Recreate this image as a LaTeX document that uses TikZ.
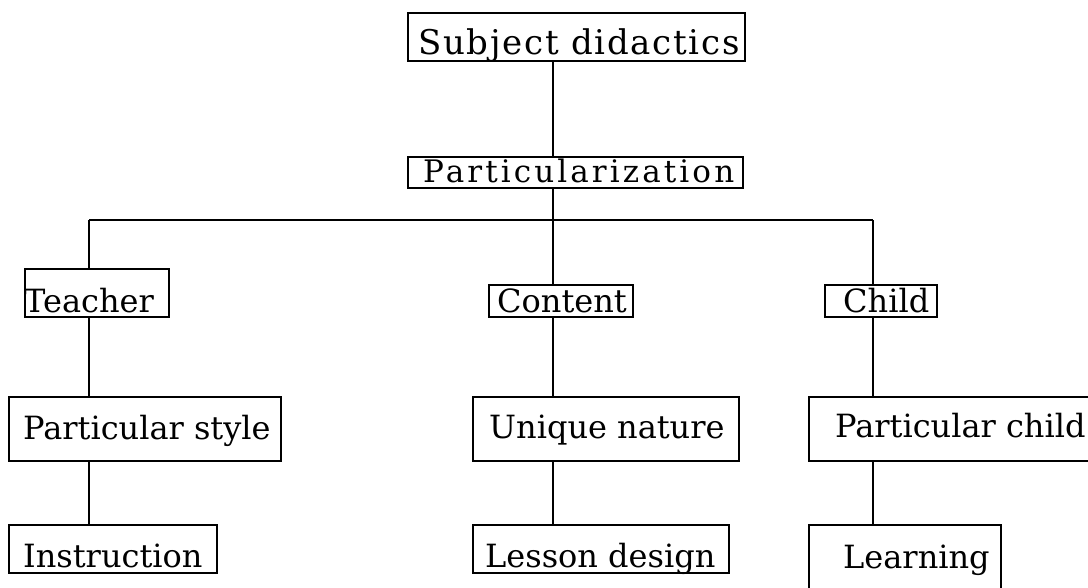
\documentclass[tikz,border=0pt]{standalone}
\usepackage{fontspec}
\setmainfont{DejaVu Serif}
\newfontfamily\sdfont[LetterSpace=5]{DejaVu Serif}
\newfontfamily\ptfont[LetterSpace=10]{DejaVu Serif}
\begin{document}
\begin{tikzpicture}[x=1pt,y=-1pt,
  box/.style={draw=black, line width=2pt, inner sep=0pt, rectangle},
  lbl/.style={anchor=base west, inner sep=0pt, font=\fontsize{32}{36}\selectfont},
  conn/.style={draw=black, line width=2pt}]
\useasboundingbox (0,0) rectangle (1088,587);
\clip (0,0) rectangle (1088,587);
% boxes
\node[box, minimum width=337pt, minimum height=48pt] (sd) at (576.5,37) {};
\node[box, minimum width=335pt, minimum height=31pt] (part) at (575.5,172.5) {};
\node[box, minimum width=144pt, minimum height=48pt] (teacher) at (97,293) {};
\node[box, minimum width=144pt, minimum height=32pt] (content) at (561,301) {};
\node[box, minimum width=112pt, minimum height=32pt] (child) at (881,301) {};
\node[box, minimum width=272pt, minimum height=64pt] (ps) at (145,429) {};
\node[box, minimum width=266pt, minimum height=64pt] (un) at (606,429) {};
\node[box, minimum width=291pt, minimum height=64pt] (pc) at (954.5,429) {};
\node[box, minimum width=208pt, minimum height=48pt] (instr) at (113,549) {};
\node[box, minimum width=256pt, minimum height=48pt] (ld) at (601,549) {};
\node[box, minimum width=192pt, minimum height=75pt] (learn) at (905,562.5) {};
% texts
\node[lbl, font=\fontsize{34}{38}\sdfont] (tsd) at (418,54) {Subject didactics};
\node[lbl, font=\fontsize{31}{36}\ptfont] (tpart) at (423,182) {Particularization};
\node[lbl] (tteacher) at (24,312) {Teacher};
\node[lbl] (tcontent) at (497,312) {Content};
\node[lbl] (tchild) at (843,312) {Child};
\node[lbl] (tps) at (23,439) {Particular style};
\node[lbl] (tun) at (489,438) {Unique nature};
\node[lbl] (tpc) at (835,437) {Particular child};
\node[lbl] (tinstr) at (23,567) {Instruction};
\node[lbl] (tld) at (485,567) {Lesson design};
\node[lbl] (tlearn) at (843,568) {Learning};
% connectors
\coordinate (j) at (553,220);
\coordinate (cL) at (89,220);
\coordinate (cR) at (873,220);
\draw[conn] (sd.south -| j) -- (part.north -| j);
\draw[conn] (part.south -| j) -- (j);
\draw[conn] (cL) -- (cR);
\draw[conn] (cL) -- (teacher.north -| cL);
\draw[conn] (j) -- (content.north -| j);
\draw[conn] (cR) -- (child.north -| cR);
\draw[conn] (teacher.south -| cL) -- (ps.north -| cL);
\draw[conn] (ps.south -| cL) -- (instr.north -| cL);
\draw[conn] (content.south -| j) -- (un.north -| j);
\draw[conn] (un.south -| j) -- (ld.north -| j);
\draw[conn] (child.south -| cR) -- (pc.north -| cR);
\draw[conn] (pc.south -| cR) -- (learn.north -| cR);
\end{tikzpicture}
\end{document}
